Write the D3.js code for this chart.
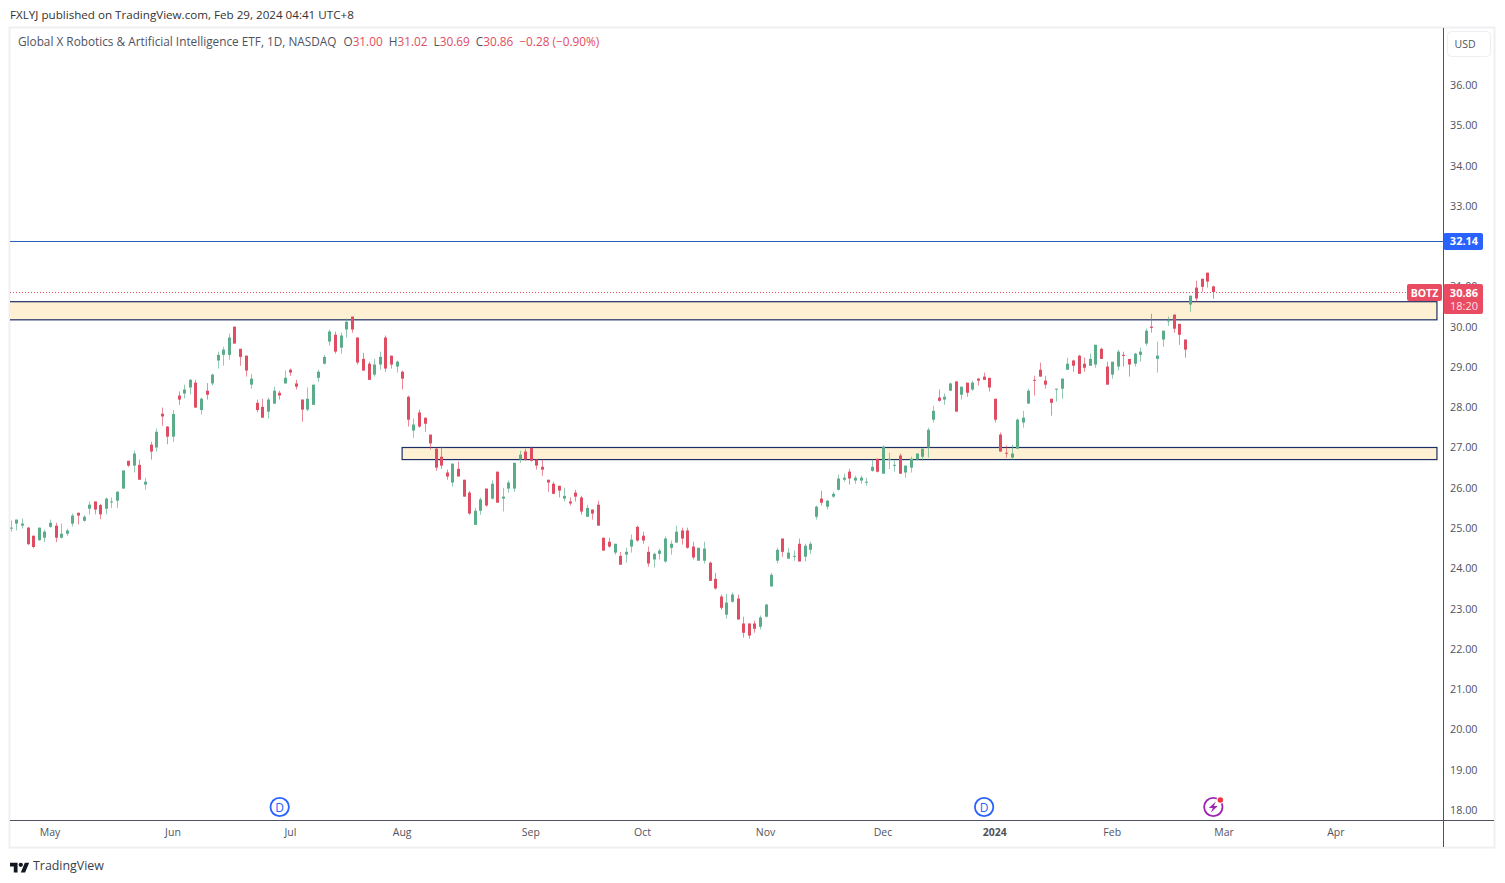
<!DOCTYPE html>
<html>
<head>
<meta charset="utf-8">
<script src="https://cdn.jsdelivr.net/npm/d3@7"></script>
<style>
  html, body { margin: 0; padding: 0; background: #fff; }
  svg { display: block; }
  text { font-family: "Open Sans", sans-serif; }
</style>
</head>
<body>
<div id="chart"></div>
<script>
const opens = [24.99,25.11,25.06,25.01,24.81,24.70,24.76,25.03,25.06,24.76,24.86,25.11,25.38,25.18,25.48,25.66,25.57,25.48,25.64,25.68,
25.98,26.67,26.55,26.57,26.08,27.07,27.00,27.84,27.52,27.27,28.29,28.34,28.49,28.61,27.93,28.41,28.59,29.16,29.30,29.30,
30.00,29.45,29.28,28.56,28.11,28.01,27.89,28.09,28.36,28.59,28.93,28.59,28.19,27.94,28.06,28.73,29.08,29.63,29.80,29.48,
29.93,30.25,29.73,29.20,29.08,28.81,29.06,29.73,29.28,29.01,28.88,28.26,27.42,27.87,27.74,27.32,26.97,26.77,26.38,26.13,
26.47,26.20,25.88,25.08,25.43,25.98,25.73,26.40,25.73,25.98,25.98,26.70,26.90,26.99,26.70,26.52,26.20,26.10,26.05,25.73,
25.66,25.88,25.76,25.28,25.46,25.58,24.76,24.66,24.39,24.31,24.34,24.54,25.03,24.81,24.41,24.22,24.36,24.17,24.51,24.64,
24.94,24.94,24.54,24.19,24.19,24.14,23.74,23.30,22.85,23.17,23.25,22.63,22.63,22.63,22.55,22.80,23.55,24.19,24.74,24.24,
24.29,24.61,24.29,24.46,25.28,25.73,25.53,25.78,25.95,26.20,26.40,26.18,26.18,26.13,26.42,26.72,26.35,26.70,26.56,26.80,
26.38,26.50,26.70,26.77,27.00,27.69,28.24,28.19,28.41,28.64,28.31,28.61,28.44,28.71,28.76,28.73,28.21,27.32,26.87,26.75,
26.97,27.62,28.09,28.68,28.93,28.66,28.21,28.44,28.46,28.93,29.16,29.28,29.08,29.03,29.06,29.45,29.01,28.81,29.01,29.30,
29.20,29.08,29.30,29.58,30.00,29.20,29.68,30.13,30.30,30.07,29.68,30.55,30.97,31.19,31.34,31.00];

const highs = [25.19,25.21,25.24,25.03,24.81,25.01,24.96,25.21,25.13,25.11,24.98,25.36,25.38,25.32,25.66,25.66,25.60,25.76,25.76,25.92,
26.43,26.67,26.92,26.70,26.25,27.14,27.47,27.99,27.53,27.93,28.39,28.56,28.70,28.68,28.24,28.60,28.83,29.38,29.50,29.83,
30.00,29.45,29.28,28.83,28.19,28.21,28.24,28.51,28.41,28.91,28.96,28.68,28.19,28.49,28.56,28.93,29.30,29.93,29.88,29.85,
30.20,30.25,29.73,29.35,29.13,29.20,29.38,29.78,29.28,29.16,28.91,28.29,27.72,27.94,27.74,27.32,27.00,27.02,26.45,26.60,
26.65,26.20,25.92,25.50,25.76,25.98,26.18,26.40,26.00,26.18,26.62,26.92,26.97,27.02,26.70,26.70,26.20,26.15,26.05,26.00,
25.76,25.95,25.80,25.58,25.46,25.68,24.76,24.76,24.61,24.41,24.51,24.84,25.06,24.91,24.54,24.39,24.49,24.79,24.69,25.06,
25.01,25.01,24.66,24.51,24.66,24.17,23.89,23.35,23.37,23.40,23.35,22.80,22.63,22.70,22.83,23.12,23.89,24.51,24.74,24.51,
24.44,24.74,24.61,24.66,25.56,25.93,25.70,25.90,26.33,26.35,26.47,26.30,26.30,26.25,26.70,26.72,27.05,26.87,26.67,26.85,
26.55,26.77,26.85,26.97,27.49,28.04,28.44,28.34,28.61,28.64,28.51,28.61,28.66,28.73,28.86,28.73,28.21,27.37,27.05,27.07,
27.72,27.91,28.46,28.78,29.11,28.78,28.21,28.46,28.71,29.23,29.18,29.30,29.23,29.33,29.55,29.48,29.13,29.13,29.43,29.38,
29.20,29.35,29.48,29.95,30.32,29.63,29.90,30.25,30.30,30.07,29.68,30.77,31.14,31.19,31.34,31.02];

const lows = [24.91,24.94,24.99,24.58,24.50,24.68,24.65,25.01,24.65,24.74,24.80,25.04,25.09,25.16,25.34,25.34,25.22,25.34,25.50,25.50,
25.98,26.52,26.38,26.20,25.95,26.70,26.90,27.54,27.08,27.14,28.06,28.22,28.32,27.99,27.82,28.19,28.54,28.96,29.03,29.18,
29.58,29.03,28.76,28.46,27.87,27.74,27.72,28.09,28.19,28.59,28.78,28.44,27.64,27.90,28.06,28.63,29.06,29.53,29.33,29.33,
29.73,29.85,29.06,28.91,28.68,28.76,28.93,28.88,28.96,28.86,28.44,27.52,27.24,27.49,27.39,26.95,26.42,26.47,26.20,26.03,
26.28,25.78,25.33,25.08,25.33,25.53,25.71,25.63,25.41,25.88,25.90,26.62,26.67,26.65,26.45,26.30,25.90,25.85,25.76,25.66,
25.56,25.66,25.33,25.28,25.21,25.06,24.44,24.51,24.34,24.09,24.14,24.39,24.66,24.61,24.04,24.02,24.22,24.14,24.34,24.64,
24.59,24.49,24.22,24.19,24.12,23.69,23.47,22.97,22.75,23.15,22.73,22.28,22.25,22.40,22.48,22.78,23.55,24.12,24.29,24.24,
24.19,24.17,24.17,24.36,25.21,25.56,25.46,25.75,25.93,26.15,26.08,26.10,26.10,26.05,26.40,26.38,26.35,26.47,26.40,26.35,
26.25,26.38,26.67,26.67,26.75,27.62,28.14,28.06,28.41,27.89,28.19,28.26,28.41,28.54,28.68,28.39,27.62,26.90,26.75,26.70,
26.97,27.49,28.09,28.29,28.76,28.46,27.79,28.14,28.21,28.93,28.88,28.83,28.88,29.03,28.98,29.20,28.56,28.71,28.91,29.01,
28.76,29.01,29.13,29.53,29.85,28.86,29.50,30.02,29.85,29.55,29.23,30.37,30.62,30.87,30.97,30.69];

const closes = [25.01,25.21,25.11,24.60,24.53,25.01,24.91,25.13,24.76,24.86,24.94,25.31,25.31,25.28,25.58,25.46,25.34,25.73,25.66,25.90,
26.43,26.55,26.85,26.20,26.15,26.90,27.39,27.77,27.27,27.83,28.19,28.44,28.68,27.99,28.21,28.31,28.81,29.30,29.43,29.73,
29.58,29.25,28.91,28.71,27.93,27.74,28.19,28.41,28.29,28.73,28.86,28.51,27.94,28.21,28.56,28.88,29.25,29.88,29.38,29.78,
30.12,29.93,29.11,28.91,28.68,29.06,29.25,28.96,29.06,29.13,28.71,27.69,27.57,27.52,27.59,27.10,26.50,26.55,26.28,26.60,
26.28,25.78,25.36,25.43,25.71,25.56,26.10,25.63,25.78,26.13,26.62,26.82,26.70,26.67,26.55,26.45,26.13,25.85,25.93,25.80,
25.61,25.78,25.41,25.50,25.36,25.06,24.44,24.54,24.61,24.09,24.41,24.71,24.69,24.69,24.12,24.36,24.44,24.74,24.61,24.91,
24.74,24.51,24.27,24.51,24.49,23.69,23.50,23.02,23.15,23.35,22.73,22.40,22.33,22.50,22.78,23.10,23.84,24.46,24.41,24.39,
24.31,24.17,24.56,24.61,25.53,25.63,25.68,25.85,26.23,26.25,26.23,26.25,26.25,26.15,26.52,26.40,27.02,26.72,26.57,26.35,
26.55,26.72,26.85,26.97,27.44,27.91,28.16,28.26,28.59,27.89,28.51,28.36,28.61,28.66,28.68,28.49,27.69,26.90,26.85,26.85,
27.69,27.74,28.41,28.67,28.76,28.56,28.11,28.46,28.71,29.08,29.03,28.83,28.98,29.20,29.55,29.20,28.56,29.13,29.38,29.28,
29.06,29.33,29.38,29.90,29.97,29.28,29.90,30.16,29.95,29.80,29.43,30.77,30.70,30.99,31.12,30.86];

// 32.00 sits behind the blue level tag in the picture, so it is left out
const priceTicks = [18,19,20,21,22,23,24,25,26,27,28,29,30,31,33,34,35,36];
const monthLabels = ["May","Jun","Jul","Aug","Sep","Oct","Nov","Dec","2024","Feb","Mar","Apr"];
const monthBars = [7,29,50,70,93,113,135,156,176,197,217,237];

// supply/demand boxes: [low, high, first bar, last bar]
const zoneLows = [30.17, 26.70];
const zoneHighs = [30.62, 27.00];
const zoneStarts = [-2, 69.9];
const zoneEnd = 255;

const dividendBars = [48, 174];
const earningsBar = 215;
const levelPrice = 32.14;
const lastPrice = 30.86;

const width = 1505, height = 883;
const plot = { left: 10, right: 1443.5, top: 28, bottom: 820.5 };

const upColor = "#5bad8a", downColor = "#df4d62", tagRed = "#e94c62", gridText = "#50535e", frame = "#f0f0f3";

const x = d3.scaleLinear().domain([0, 215]).range([11.33, 1213.33]);
const y = d3.scaleLinear().domain([18, 36]).range([810, 85]);

const svg = d3.select("#chart").append("svg")
  .attr("width", width).attr("height", height);

// outer frame
svg.append("rect")
  .attr("x", 9.5).attr("y", 27.5).attr("width", 1485).attr("height", 820)
  .attr("fill", "#fff").attr("stroke", frame).attr("stroke-width", 2);

svg.append("defs").append("clipPath").attr("id", "plot-clip").append("rect")
  .attr("x", plot.left).attr("y", plot.top)
  .attr("width", plot.right - plot.left).attr("height", plot.bottom - plot.top);

const pane = svg.append("g").attr("clip-path", "url(#plot-clip)");

// zones
pane.selectAll("rect.zone").data(zoneLows).join("rect")
  .attr("class", "zone")
  .attr("x", (d, i) => x(zoneStarts[i]))
  .attr("y", (d, i) => y(zoneHighs[i]))
  .attr("width", (d, i) => x(zoneEnd) - x(zoneStarts[i]))
  .attr("height", (d, i) => y(d) - y(zoneHighs[i]))
  .attr("fill", "#fef0d2").attr("stroke", "#1c2f66").attr("stroke-width", 1.2);

// horizontal level and last price line
pane.append("line")
  .attr("x1", plot.left).attr("x2", plot.right)
  .attr("y1", Math.floor(y(levelPrice)) + 1.5).attr("y2", Math.floor(y(levelPrice)) + 1.5)
  .attr("stroke", "#2a62b8").attr("stroke-width", 1);
pane.append("line")
  .attr("x1", plot.left).attr("x2", 1407)
  .attr("y1", Math.round(y(lastPrice)) + 0.5).attr("y2", Math.round(y(lastPrice)) + 0.5)
  .attr("stroke", downColor).attr("stroke-width", 1).attr("stroke-dasharray", "1 2");

// candles
const candles = pane.selectAll("g.candle").data(opens).join("g").attr("class", "candle");
const colorOf = i => closes[i] >= opens[i] ? upColor : downColor;

candles.append("rect")
  .attr("x", (d, i) => Math.floor(x(i)))
  .attr("y", (d, i) => y(highs[i]))
  .attr("width", 1)
  .attr("height", (d, i) => y(lows[i]) - y(highs[i]))
  .attr("fill", (d, i) => colorOf(i))
  .attr("opacity", 0.65);

candles.append("rect")
  .attr("x", (d, i) => Math.floor(x(i)) - 1)
  .attr("y", (d, i) => y(Math.max(d, closes[i])))
  .attr("width", 3)
  .attr("height", (d, i) => Math.max(1, Math.abs(y(d) - y(closes[i]))))
  .attr("fill", (d, i) => colorOf(i));

// price axis
const priceAxis = svg.append("g")
  .attr("transform", `translate(${plot.right},0)`)
  .call(d3.axisRight(y).tickValues(priceTicks).tickFormat(d3.format(".2f")).tickSize(0).tickPadding(6.5));
priceAxis.select(".domain").remove();
priceAxis.selectAll("text")
  .attr("fill", gridText).style("font-size", "10.8px").style("font-family", '"Open Sans", sans-serif');

// time axis
const timeAxis = svg.append("g")
  .attr("transform", `translate(-1,${plot.bottom})`)
  .call(d3.axisBottom(x).tickValues(monthBars).tickFormat((d, i) => monthLabels[i]).tickSize(0).tickPadding(8));
timeAxis.select(".domain").remove();
timeAxis.selectAll("text")
  .attr("fill", gridText).style("font-size", "10.5px").style("font-family", '"Open Sans", sans-serif')
  .style("font-weight", d => d === 176 ? "700" : "400");

// separators
svg.append("line").attr("x1", plot.right).attr("x2", plot.right).attr("y1", plot.top).attr("y2", 847)
  .attr("stroke", "#50535e").attr("stroke-width", 1);
svg.append("line").attr("x1", plot.left).attr("x2", 1494).attr("y1", plot.bottom).attr("y2", plot.bottom)
  .attr("stroke", "#50535e").attr("stroke-width", 1);

// USD button
svg.append("rect").attr("x", 1447.5).attr("y", 31.5).attr("width", 43).attr("height", 25).attr("rx", 4)
  .attr("fill", "#fff").attr("stroke", "#eeeef1");
svg.append("text").attr("x", 1465).attr("y", 48).attr("text-anchor", "middle")
  .attr("font-size", 10.5).attr("fill", gridText).text("USD");

// price tags
svg.append("rect").attr("x", plot.right).attr("y", y(levelPrice) - 7.5).attr("width", 39.5).attr("height", 17).attr("rx", 2)
  .attr("fill", "#2962ff");
svg.append("text").attr("x", 1464).attr("y", y(levelPrice) + 5).attr("text-anchor", "middle")
  .attr("font-size", 11).attr("font-weight", 700).attr("fill", "#fff").text(d3.format(".2f")(levelPrice));

svg.append("rect").attr("x", plot.right).attr("y", 284).attr("width", 39.5).attr("height", 30).attr("rx", 2)
  .attr("fill", tagRed);
svg.append("text").attr("x", 1464).attr("y", 297).attr("text-anchor", "middle")
  .attr("font-size", 11).attr("font-weight", 700).attr("fill", "#fff").text(d3.format(".2f")(lastPrice));
svg.append("text").attr("x", 1464).attr("y", 310).attr("text-anchor", "middle")
  .attr("font-size", 11).attr("fill", "#fff").attr("fill-opacity", 0.85).text("18:20");

svg.append("rect").attr("x", 1407).attr("y", 284).attr("width", 35).attr("height", 17).attr("rx", 2)
  .attr("fill", tagRed);
svg.append("text").attr("x", 1424.5).attr("y", 297).attr("text-anchor", "middle")
  .attr("font-size", 10.5).attr("font-weight", 700).attr("fill", "#fff").text("BOTZ");

// dividend markers
const divs = svg.selectAll("g.div").data(dividendBars).join("g")
  .attr("class", "div").attr("transform", d => `translate(${x(d)},807)`);
divs.append("circle").attr("r", 9.2).attr("fill", "#fff").attr("stroke", "#2962ff").attr("stroke-width", 1.8);
divs.append("text").attr("y", 4.5).attr("text-anchor", "middle").attr("font-size", 12)
  .attr("fill", "#2962ff").text("D");

// earnings marker
const earn = svg.append("g").attr("transform", `translate(${x(earningsBar)},807)`);
earn.append("circle").attr("r", 9.2).attr("fill", "#fff").attr("stroke", "#9c27b0").attr("stroke-width", 1.8);
earn.append("path").attr("d", "M2.5,-5.5 L-4.5,1 L-0.5,1 L-2.5,5.5 L4.5,-1 L0.5,-1 Z").attr("fill", "#9c27b0");
earn.append("circle").attr("cx", 7).attr("cy", -7).attr("r", 3.8).attr("fill", "#fff");
earn.append("circle").attr("cx", 7).attr("cy", -7).attr("r", 2.8).attr("fill", "#f23645");

// header
svg.append("text").attr("x", 10).attr("y", 19).attr("font-size", 11.63).attr("fill", "#333")
  .text("FXLYJ published on TradingView.com, Feb 29, 2024 04:41 UTC+8");

const legendLabel = ["O", "H", "L", "C"];
const legendValue = ["31.00", "31.02", "30.69", "30.86"];
const legend = svg.append("text").attr("x", 18).attr("y", 46).attr("font-size", 11.8).attr("fill", gridText);
legend.append("tspan").text("Global X Robotics & Artificial Intelligence ETF, 1D, NASDAQ");
legendLabel.forEach((l, i) => {
  legend.append("tspan").attr("dx", i === 0 ? 7 : 6).text(l);
  legend.append("tspan").attr("fill", downColor).text(legendValue[i]);
});
legend.append("tspan").attr("dx", 6).attr("fill", downColor).text("−0.28 (−0.90%)");

// logo
const logo = svg.append("g").attr("transform", "translate(10,860.5) scale(0.54)").attr("fill", "#131722");
logo.append("path").attr("d", "M14 22H7V11H0V4h14v18zM28 22h-8l7.5-18h8L28 22z");
logo.append("circle").attr("cx", 20).attr("cy", 8).attr("r", 4);
svg.append("text").attr("x", 33).attr("y", 870).attr("font-size", 12.4).attr("fill", "#3a3e4a").text("TradingView");
</script>
</body>
</html>
